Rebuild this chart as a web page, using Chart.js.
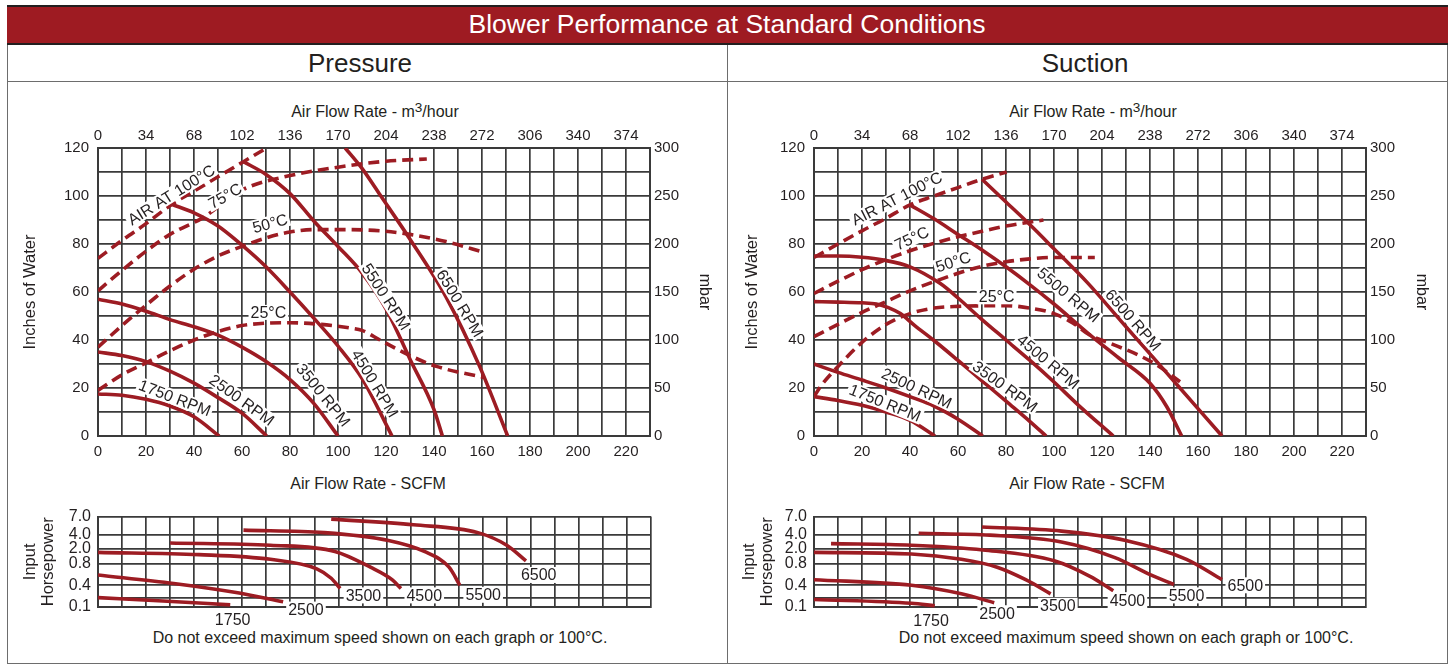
<!DOCTYPE html>
<html><head><meta charset="utf-8">
<script src="https://cdn.jsdelivr.net/npm/chart.js@4.4.1/dist/chart.umd.min.js"></script>
<style>
html,body{margin:0;padding:0}
body{width:1453px;height:665px;background:#fff;font-family:"Liberation Sans",Arial,sans-serif;color:#231f20;position:relative;overflow:hidden}
.abs{position:absolute}
.ct{position:absolute;transform:translate(-50%,-50%);white-space:nowrap}
#frame{left:7px;top:5px;width:1439px;height:657px;border:1px solid #6d6d6d}
#bar{left:7px;top:5px;width:1441px;height:36px;background:#9e1b22;border-top:2px solid #231f20;border-bottom:2px solid #231f20}
#hline{left:7px;top:81px;width:1441px;height:0;border-top:1px solid #6d6d6d}
#vline{left:727px;top:45px;width:0;height:618px;border-left:1px solid #6d6d6d}
.sup{font-size:0.85em;position:relative;top:-0.35em}
</style>
</head><body>
<div id="frame" class="abs"></div>
<div id="bar" class="abs"></div>
<div id="hline" class="abs"></div>
<div id="vline" class="abs"></div>
<div class="ct" style="left:727px;top:24px;font-size:26.5px;color:#fff">Blower Performance at Standard Conditions</div>
<div class="ct" style="left:360px;top:63px;font-size:26px">Pressure</div>
<div class="ct" style="left:1085px;top:63px;font-size:26px">Suction</div>
<div class="ct" style="left:375px;top:112px;font-size:16px">Air Flow Rate - m<span class="sup">3</span>/hour</div>
<div class="ct" style="left:1093px;top:112px;font-size:16px">Air Flow Rate - m<span class="sup">3</span>/hour</div>
<div class="ct" style="left:368px;top:484px;font-size:16px">Air Flow Rate - SCFM</div>
<div class="ct" style="left:1087px;top:484px;font-size:16px">Air Flow Rate - SCFM</div>
<div class="ct" style="left:380px;top:638px;font-size:16px">Do not exceed maximum speed shown on each graph or 100°C.</div>
<div class="ct" style="left:1126px;top:638px;font-size:16px">Do not exceed maximum speed shown on each graph or 100°C.</div>

<canvas id="cP" class="abs" style="left:0;top:86px" width="727" height="414"></canvas>
<canvas id="cS" class="abs" style="left:727px;top:86px" width="726" height="414"></canvas>
<canvas id="cPH" class="abs" style="left:0;top:500px" width="727" height="130"></canvas>
<canvas id="cSH" class="abs" style="left:727px;top:500px" width="726" height="130"></canvas>

<script>
// ---------- DATA: x = Air Flow Rate (SCFM), y = Inches of Water ----------
// Pressure — speed curves
const pressure1750 = [[0,17.5],[10,17],[20,15.3],[30,12.5],[40,8],[50.5,0]];
const pressure2500 = [[0,35],[10,33.5],[20,31],[30,27],[40,22],[50,16],[60,9.5],[70.3,0]];
const pressure3500 = [[0,57],[10,55],[20,52],[30,48.5],[40,45.5],[50,42],[60,37],[70,31],[80,23.5],[90,13.5],[100,0]];
const pressure4500 = [[30.7,96.5],[40,93],[50,87.5],[60,79.5],[70,70.5],[80,60],[90,49],[100,37.5],[110,24],[122.5,0]];
const pressure5500 = [[60.6,114.3],[70,109],[80,101],[90,89.5],[100,79],[110,68],[120,53],[130,32],[140,11],[143.5,0]];
const pressure6500 = [[103,120],[110,111.5],[117.5,100.5],[130,82],[145,58],[159,29],[170.7,0]];
// Pressure — air temperature limit curves
const pressure100C = [[0,74],[10,81.5],[20,88.5],[30.7,96.5],[40,102],[50,108],[60.6,114.3],[70.3,120]];
const pressure75C  = [[0,60.5],[10,69],[20,77],[30,84],[43.8,91],[60,102.5],[80,108.5],[100,112],[120,114.5],[137,115.4]];
const pressure50C  = [[0,37],[10,46],[20,54.5],[30,62.5],[40,69.5],[50,75],[60,79],[70,82.5],[80,85],[90,86],[100,86],[117.5,85.5],[130,84],[145,81],[161,76.5]];
const pressure25C  = [[0,19],[10,25.5],[20,30.5],[30,35.5],[40,40],[50,43.5],[60,46],[70,47],[80,47.2],[93,46.5],[105,45],[110,44],[117.5,40],[130,33.5],[141,29],[160.6,24.4]];

// Suction — speed curves
const suction1750 = [[0,16.4],[10,14.8],[20,12.8],[30,10],[40,6.5],[50.4,0]];
const suction2500 = [[0,30],[10,26.5],[20,23.3],[30,20],[40,16.4],[50,12.5],[60,7],[70.3,0]];
const suction3500 = [[0,56],[10,55.8],[20,55.5],[26,55],[31,53.5],[36,51],[42,46],[50,39.8],[60,31.5],[70,23],[80,14.5],[90,6],[96.7,0]];
const suction4500 = [[0,75],[10,75],[20,74.5],[29,73.3],[40,70.5],[52.5,63.6],[60,57.5],[70,48.5],[80,40],[90,31.5],[100,22.5],[110,13],[124.7,0]];
const suction5500 = [[40,96.3],[50,90.5],[60,84],[70,77.5],[80,70.5],[90,63],[100,55],[114.2,42.8],[127,32.5],[140,22],[147,12.2],[153.2,0]];
const suction6500 = [[70,107],[80,97.5],[90,88],[100,78],[114.2,63.6],[130,45.5],[140,34.2],[150,22.8],[160,11.4],[170,0]];
// Suction — air temperature limit curves
const suction100C = [[0,74.4],[10,80],[20,85.5],[30,90.7],[40,96.3],[50,100],[60,103.5],[70,107],[80.3,110]];
const suction75C  = [[0,59.4],[10,64.5],[20,69.3],[30,73.5],[40,77.2],[50,80.3],[60,83],[70,85.3],[80,87.5],[95.6,90]];
const suction50C  = [[0,41.4],[10,46.5],[20,51.5],[30,56],[40,60.5],[50,64.3],[60,67.8],[70,70.7],[80,72.6],[90,73.8],[100,74.4],[117,74.4]];
const suction25C  = [[0,16.4],[3,21],[10,29],[20,39],[30,46.5],[40,51],[50,53.3],[60,54],[80,54.3],[90,53.3],[100,51],[108,47],[114.2,42.5],[125,38],[135,33.8],[142.8,29.6],[152.5,22.6]];

// Input horsepower: x = SCFM, y = HP
const hpPressure1750 = [[0,0.204],[27,0.158],[55,0.118]];
const hpPressure2500 = [[0,0.555],[31.5,0.424],[56.8,0.273],[77,0.15]];
const hpPressure3500 = [[0,1.58],[42,1.38],[71.7,1.03],[91,0.675],[97,0.5],[100.7,0.335]];
const hpPressure4500 = [[30,2.64],[71.7,2.36],[98.5,1.68],[113.3,0.71],[122.3,0.478],[126,0.335]];
const hpPressure5500 = [[60.5,4.58],[94,4.24],[120.8,2.98],[135.7,1.68],[146,0.71],[150.5,0.4]];
const hpPressure6500 = [[97,6.46],[131.2,5.42],[158,4.24],[170,2.36],[178,0.94]];
const hpSuction1750 = [[0,0.178],[40.6,0.133],[50.3,0.11]];
const hpSuction2500 = [[0,0.478],[40.6,0.4],[61.4,0.251],[75.1,0.139]];
const hpSuction3500 = [[0,1.58],[40.6,1.43],[61.4,1.03],[76.3,0.71],[88.2,0.478],[98.6,0.251]];
const hpSuction4500 = [[7.1,2.55],[40.6,2.36],[70.4,1.84],[100.1,0.94],[115,0.53],[124.7,0.298]];
const hpSuction5500 = [[43.6,4.16],[73.3,3.87],[103.1,2.76],[125.4,1.14],[140.3,0.555],[150,0.41]];
const hpSuction6500 = [[70,5.06],[103.1,4.45],[129.9,2.98],[155.2,1.03],[170,0.478]];

// Axis ticks
const scfmRange = [0, 230];
const inchRange = [0, 120];
const mbarRange = [0, 300];
const m3hPerScfm = 1.7;              // top axis labels: 0, 34, 68 ... 374
const hpTickValues = [0.1, 0.2, 0.4, 0.8, 2.0, 4.0, 7.0];
const hpTickLabels = ['0.1', '', '0.4', '0.8', '2.0', '4.0', '7.0'];

// Curve annotations: [text, SCFM, value, angle]
const pressureLabels = [
  ['AIR AT 100°C',30.5,100.5,-32],['75°C',52.9,100,-30],['50°C',71.7,88.6,-15],['25°C',71,51.5,0],
  ['1750 RPM',32,15.9,21],['2500 RPM',59.9,15,36],['3500 RPM',93.9,17.1,51],['4500 RPM',115.4,21.9,59],
  ['5500 RPM',120,58,57],['6500 RPM',150.8,55.3,59]
];
const suctionLabels = [
  ['AIR AT 100°C',34.5,99,-27],['75°C',40.7,82.4,-25],['50°C',58,72.6,-18],['25°C',76.1,58,0],
  ['1750 RPM',29.6,13.8,22],['2500 RPM',42.8,19.9,25],['3500 RPM',79.6,20.6,36],['4500 RPM',97.6,31,40],
  ['5500 RPM',106,58.75,40],['6500 RPM',133,48.3,49]
];
const hpPressureLabels = [['1750',56,0.037],['2500',86.5,0.082],['3500',110.4,0.23],['4500',135.7,0.23],['5500',160.2,0.238],['6500',183.3,0.555]];
const hpSuctionLabels  = [['1750',48.8,0.035],['2500',76.3,0.062],['3500',101.6,0.11],['4500',130.6,0.169],['5500',155.2,0.23],['6500',179.7,0.4]];

// ---------- STYLE ----------
const FONT = '"Liberation Sans", Arial, sans-serif';
const RED = '#9d1c23';
const GRID = '#3a3a3a';
const TXT = '#231f20';

// Non-uniform HP scale: log interpolation between the printed grid lines
const hpTickFrac = [0, 0.1, 0.24, 0.482, 0.646, 0.802, 1];
const LinearScale = Chart.LinearScale || Chart.registry.getScale('linear');
class HpScale extends LinearScale {
  determineDataLimits() { this.min = hpTickValues[0]; this.max = hpTickValues[hpTickValues.length - 1]; }
  buildTicks() { return hpTickValues.map(v => ({ value: v })); }
  hpFrac(v) {
    const t = hpTickValues, f = hpTickFrac;
    let i = 0;
    if (v > t[0]) { while (i < t.length - 2 && v > t[i + 1]) i++; }
    return f[i] + (f[i + 1] - f[i]) * Math.log(v / t[i]) / Math.log(t[i + 1] / t[i]);
  }
  getPixelForValue(v) { return this.getPixelForDecimal(this.hpFrac(v)); }
  getValueForPixel(p) {
    const d = this.getDecimalForPixel(p), t = hpTickValues, f = hpTickFrac;
    let i = 0; while (i < f.length - 2 && d > f[i + 1]) i++;
    return t[i] * Math.pow(t[i + 1] / t[i], (d - f[i]) / (f[i + 1] - f[i]));
  }
}
HpScale.id = 'hpbreaks';
HpScale.defaults = LinearScale.defaults;
Chart.register(HpScale);

const toPts = a => a.map(([x, y]) => ({ x, y }));

function labelPlugin(items, fontSize, boxH) {
  return {
    id: 'curveLabels',
    afterDatasetsDraw(chart) {
      const ctx = chart.ctx, xs = chart.scales.x, ys = chart.scales.y;
      ctx.save();
      ctx.font = fontSize + 'px ' + FONT;
      items.forEach(([text, x, y, ang]) => {
        const px = xs.getPixelForValue(x), py = ys.getPixelForValue(y);
        ctx.save();
        ctx.translate(px, py);
        ctx.rotate((ang || 0) * Math.PI / 180);
        const w = ctx.measureText(text).width;
        ctx.fillStyle = '#fff';
        ctx.fillRect(-w / 2 - 2, -boxH / 2, w + 4, boxH);
        ctx.fillStyle = TXT;
        ctx.textAlign = 'center';
        ctx.textBaseline = 'middle';
        ctx.fillText(text, 0, 1);
        ctx.restore();
      });
      ctx.restore();
    }
  };
}

function lineDs(arr, dashed) {
  return {
    data: toPts(arr), borderColor: RED, borderWidth: 3.6, pointRadius: 0,
    borderDash: dashed ? [11, 6] : [], borderCapStyle: 'butt',
    cubicInterpolationMode: 'monotone', fill: false
  };
}

const tickFont = { size: 15, family: FONT };

function mainChart(id, solids, dashes, labels, g) {
  new Chart(document.getElementById(id), {
    type: 'line',
    data: { datasets: [...dashes.map(a => lineDs(a, true)), ...solids.map(a => lineDs(a, false))] },
    options: {
      responsive: false, animation: false,
      layout: { padding: 0 },
      plugins: { legend: { display: false }, tooltip: { enabled: false } },
      scales: {
        x: {
          type: 'linear', position: 'bottom', min: scfmRange[0], max: scfmRange[1],
          ticks: { stepSize: 10, autoSkip: false, maxRotation: 0, padding: 7, font: tickFont, color: TXT,
                   callback: v => (Math.round(v) % 20 === 0 ? Math.round(v) : '') },
          grid: { color: GRID, lineWidth: 1.7, drawTicks: false },
          border: { color: GRID, width: 2 },
          afterFit: s => { s.height = g.bottomH; }
        },
        x2: {
          type: 'linear', position: 'top', min: scfmRange[0], max: scfmRange[1],
          ticks: { stepSize: 20, includeBounds: false, autoSkip: false, maxRotation: 0, padding: 3, font: tickFont, color: TXT,
                   callback: v => Math.round(v * m3hPerScfm) },
          grid: { display: false, drawTicks: false },
          border: { color: GRID, width: 2 },
          afterFit: s => { s.height = g.topH; }
        },
        y: {
          type: 'linear', position: 'left', min: inchRange[0], max: inchRange[1],
          ticks: { stepSize: 10, autoSkip: false, padding: 9, font: tickFont, color: TXT,
                   callback: v => (Math.round(v) % 20 === 0 ? Math.round(v) : '') },
          grid: { color: GRID, lineWidth: 1.7, drawTicks: false },
          border: { color: GRID, width: 2 },
          title: { display: true, text: 'Inches of Water', color: TXT, font: { size: 16.5, family: FONT }, padding: { top: g.yTitlePad, bottom: 0 } },
          afterFit: s => { s.width = g.leftW; }
        },
        y2: {
          type: 'linear', position: 'right', min: mbarRange[0], max: mbarRange[1],
          ticks: { stepSize: 50, autoSkip: false, padding: 4, font: tickFont, color: TXT },
          grid: { display: false, drawTicks: false },
          border: { color: GRID, width: 2 },
          title: { display: true, text: 'mbar', color: TXT, font: { size: 16, family: FONT }, padding: { top: g.y2TitlePad, bottom: 0 } },
          afterFit: s => { s.width = g.rightW; }
        }
      }
    },
    plugins: [labelPlugin(labels, 16, 15)]
  });
}

function hpChart(id, curves, labels, g) {
  new Chart(document.getElementById(id), {
    type: 'line',
    data: { datasets: curves.map(a => lineDs(a, false)) },
    options: {
      responsive: false, animation: false,
      layout: { padding: { left: 0, top: 11, right: g.rightPad, bottom: 23 } },
      plugins: { legend: { display: false }, tooltip: { enabled: false } },
      scales: {
        x: {
          type: 'linear', min: scfmRange[0], max: scfmRange[1],
          ticks: { display: false, stepSize: 10, autoSkip: false },
          grid: { color: GRID, lineWidth: 1.7, drawTicks: false },
          border: { color: GRID, width: 2 },
          afterFit: s => { s.height = 0; }
        },
        y: {
          type: 'hpbreaks', position: 'left',
          ticks: { autoSkip: false, padding: 7, font: { size: 16, family: FONT }, color: TXT,
                   callback: (v, i) => hpTickLabels[i] },
          grid: { color: GRID, lineWidth: 1.7, drawTicks: false },
          border: { color: GRID, width: 2 },
          title: { display: true, text: ['Input', 'Horsepower'], color: TXT, font: { size: 16.5, family: FONT, lineHeight: 1.1 }, padding: { top: g.yTitlePad, bottom: 0 } },
          afterFit: s => { s.width = g.leftW; }
        }
      }
    },
    plugins: [labelPlugin(labels, 16, 16)]
  });
}

mainChart('cP',
  [pressure1750, pressure2500, pressure3500, pressure4500, pressure5500, pressure6500],
  [pressure100C, pressure75C, pressure50C, pressure25C],
  pressureLabels,
  { leftW: 98, rightW: 77, topH: 62, bottomH: 64, yTitlePad: 21, y2TitlePad: 13 });
mainChart('cS',
  [suction1750, suction2500, suction3500, suction4500, suction5500, suction6500],
  [suction100C, suction75C, suction50C, suction25C],
  suctionLabels,
  { leftW: 87, rightW: 87, topH: 62, bottomH: 64, yTitlePad: 16, y2TitlePad: 22 });
hpChart('cPH',
  [hpPressure1750, hpPressure2500, hpPressure3500, hpPressure4500, hpPressure5500, hpPressure6500],
  hpPressureLabels, { leftW: 98, rightPad: 76, yTitlePad: 21 });
hpChart('cSH',
  [hpSuction1750, hpSuction2500, hpSuction3500, hpSuction4500, hpSuction5500, hpSuction6500],
  hpSuctionLabels, { leftW: 87, rightPad: 87, yTitlePad: 13 });
</script>
</body></html>
